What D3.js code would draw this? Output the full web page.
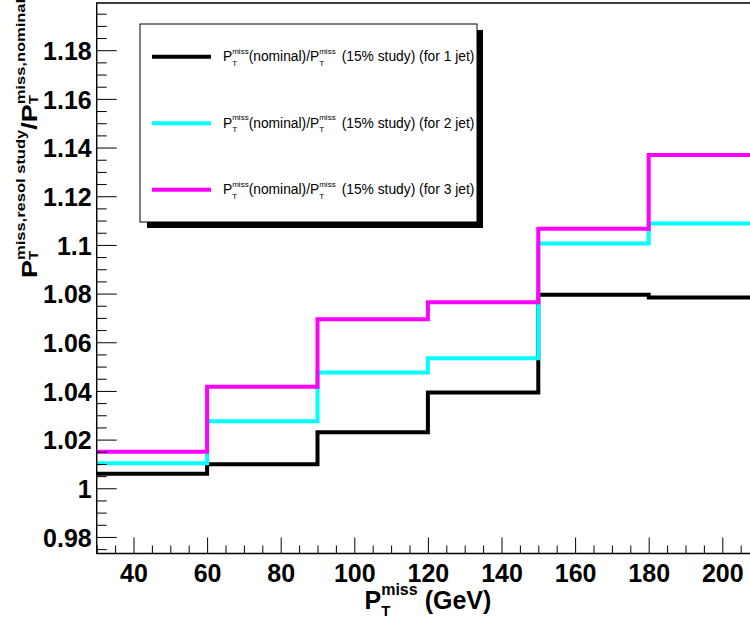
<!DOCTYPE html>
<html><head><meta charset="utf-8">
<script src="https://cdn.jsdelivr.net/npm/d3@7"></script>
<style>body{margin:0;background:#fff}svg{display:block}</style>
</head><body><svg id="c" width="750" height="618"></svg>
<script>
// ---- data ----
const binEdges = [30, 60, 90, 120, 150, 180, 210];
const ratio1Jet = [1.0060, 1.0099, 1.0230, 1.0394, 1.0795, 1.0784];
const ratio2Jet = [1.0103, 1.0275, 1.0476, 1.0534, 1.1006, 1.1088];
const ratio3Jet = [1.0150, 1.0417, 1.0695, 1.0764, 1.1066, 1.1369];
const seriesSuffix = ["(15% study) (for 1 jet)", "(15% study) (for 2 jet)", "(15% study) (for 3 jet)"];
const seriesColors = ["#000000", "#00ffff", "#ff00ff"];
const xMajorTicks = [40, 60, 80, 100, 120, 140, 160, 180, 200];
const xTickLabels = ["40", "60", "80", "100", "120", "140", "160", "180", "200"];
const yMajorTicks = [0.98, 1.00, 1.02, 1.04, 1.06, 1.08, 1.10, 1.12, 1.14, 1.16, 1.18];
const yTickLabels = ["0.98", "1", "1.02", "1.04", "1.06", "1.08", "1.1", "1.12", "1.14", "1.16", "1.18"];

const FONT = "'Liberation Sans', Arial, Helvetica, sans-serif";
const svg = d3.select("#c");
svg.append("rect").attr("width", 750).attr("height", 618).attr("fill", "#fff");

const PL = 96.7, PR = 759.1, PT = 3, PB = 553.5;
const x = d3.scaleLinear().domain([30, 210]).range([PL, PR]);
const y = d3.scaleLinear().domain([0.9732, 1.1994]).range([PB, PT]);

// ---- histograms ----
const series = [ratio1Jet, ratio2Jet, ratio3Jet];
const line = d3.line().x(d => x(d[0])).y(d => y(d[1])).curve(d3.curveStepAfter);
series.forEach((vals, s) => {
  const pts = binEdges.map((e, i) => [e, vals[Math.min(i, vals.length - 1)]]);
  svg.append("path").attr("d", line(pts)).attr("fill", "none")
    .attr("stroke", seriesColors[s]).attr("stroke-width", 4)
    .attr("stroke-linejoin", "miter");
});

// ---- axes ----
const xMinor = d3.range(30, 211, 5).filter(v => !xMajorTicks.includes(v));
const yMinor = d3.range(195, 240).filter(i => i % 4 !== 0).map(i => i * 0.005);

function styleAxis(g) {
  g.select(".domain").remove();
  g.attr("font-family", FONT).attr("font-size", 25).attr("font-weight", "bold");
  g.selectAll("line").attr("stroke", "#000").attr("stroke-width", 1);
  g.selectAll("text").attr("fill", "#000");
}
const gx = svg.append("g").attr("transform", `translate(0,${PB})`)
  .call(d3.axisBottom(x).tickValues(xMajorTicks).tickFormat((d, i) => xTickLabels[i]).tickSizeInner(-16).tickSizeOuter(0));
styleAxis(gx);
gx.selectAll("text").attr("y", 28.5).attr("dy", null);
const gxm = svg.append("g").attr("transform", `translate(0,${PB})`)
  .call(d3.axisBottom(x).tickValues(xMinor).tickFormat("").tickSizeInner(-8).tickSizeOuter(0));
styleAxis(gxm);

const gy = svg.append("g").attr("transform", `translate(${PL},0)`)
  .call(d3.axisLeft(y).tickValues(yMajorTicks).tickFormat((d, i) => yTickLabels[i]).tickSizeInner(-20).tickSizeOuter(0));
styleAxis(gy);
gy.selectAll("text").attr("x", -5).attr("dy", "0.37em");
const gym = svg.append("g").attr("transform", `translate(${PL},0)`)
  .call(d3.axisLeft(y).tickValues(yMinor).tickFormat("").tickSizeInner(-10).tickSizeOuter(0));
styleAxis(gym);

// frame
svg.append("path").attr("d", `M${PR},${PT}H${PL}V${PB}H${PR}`)
  .attr("fill", "none").attr("stroke", "#000").attr("stroke-width", 1.4);

// ---- latex-like text helper ----
function latex(parent, x0, y0, parts) {
  let cx = x0;
  parts.forEach(p => {
    if (p.gap) { cx += p.gap; return; }
    if (p.text !== undefined) {
      const t = parent.append("text").attr("x", cx).attr("y", y0)
        .attr("font-size", p.size).text(p.text);
      cx += t.node().getComputedTextLength();
    } else {
      let w = 0;
      [p.sub, p.sup].forEach(q => {
        if (!q) return;
        const t = parent.append("text").attr("x", cx).attr("y", y0 + q.dy)
          .attr("font-size", q.size).text(q.text);
        w = Math.max(w, t.node().getComputedTextLength());
      });
      cx += w;
    }
  });
  return cx;
}

// x title
const xt = svg.append("g").attr("font-family", FONT).attr("font-weight", "bold").attr("fill", "#000");
const xtEnd = latex(xt, 0, 609, [
  {text: "P", size: 25},
  {sub: {text: "T", size: 15, dy: 7}, sup: {text: "miss", size: 16, dy: -14}},
  {gap: 7},
  {text: "(GeV)", size: 25}
]);
xt.attr("transform", `translate(${(PL + PR) / 2 - xtEnd / 2},0)`);

// y title
const yt = svg.append("g").attr("font-family", FONT).attr("font-weight", "bold").attr("fill", "#000")
  .attr("transform", "translate(37,278) rotate(-90) scale(1,0.8)");
latex(yt, 0, 0, [
  {text: "P", size: 27},
  {sub: {text: "T", size: 15, dy: 1}, sup: {text: "miss,resol study", size: 16.5, dy: -15}},
  {text: "/P", size: 27},
  {sub: {text: "T", size: 15, dy: 1}, sup: {text: "miss,nominal", size: 16.5, dy: -15}}
]);

// ---- legend ----
const lg = svg.append("g");
lg.append("rect").attr("x", 147).attr("y", 30).attr("width", 336).attr("height", 198).attr("fill", "#000");
lg.append("rect").attr("x", 140).attr("y", 24).attr("width", 337).attr("height", 198)
  .attr("fill", "#fff").attr("stroke", "#000").attr("stroke-width", 1);
series.forEach((vals, s) => {
  const ly = 56.7 + s * 66.5;
  lg.append("line").attr("x1", 152).attr("x2", 211).attr("y1", ly).attr("y2", ly)
    .attr("stroke", seriesColors[s]).attr("stroke-width", 4);
  const tg = lg.append("g").attr("font-family", FONT).attr("fill", "#000");
  latex(tg, 223, ly + 4.5, [
    {text: "P", size: 13.8},
    {sub: {text: "T", size: 8, dy: 4.3}, sup: {text: "miss", size: 8, dy: -7.6}},
    {text: "(nominal)/P", size: 13.8},
    {sub: {text: "T", size: 8, dy: 4.3}, sup: {text: "miss", size: 8, dy: -7.6}},
    {gap: 6},
    {text: seriesSuffix[s], size: 13.8}
  ]);
});
</script></body></html>
